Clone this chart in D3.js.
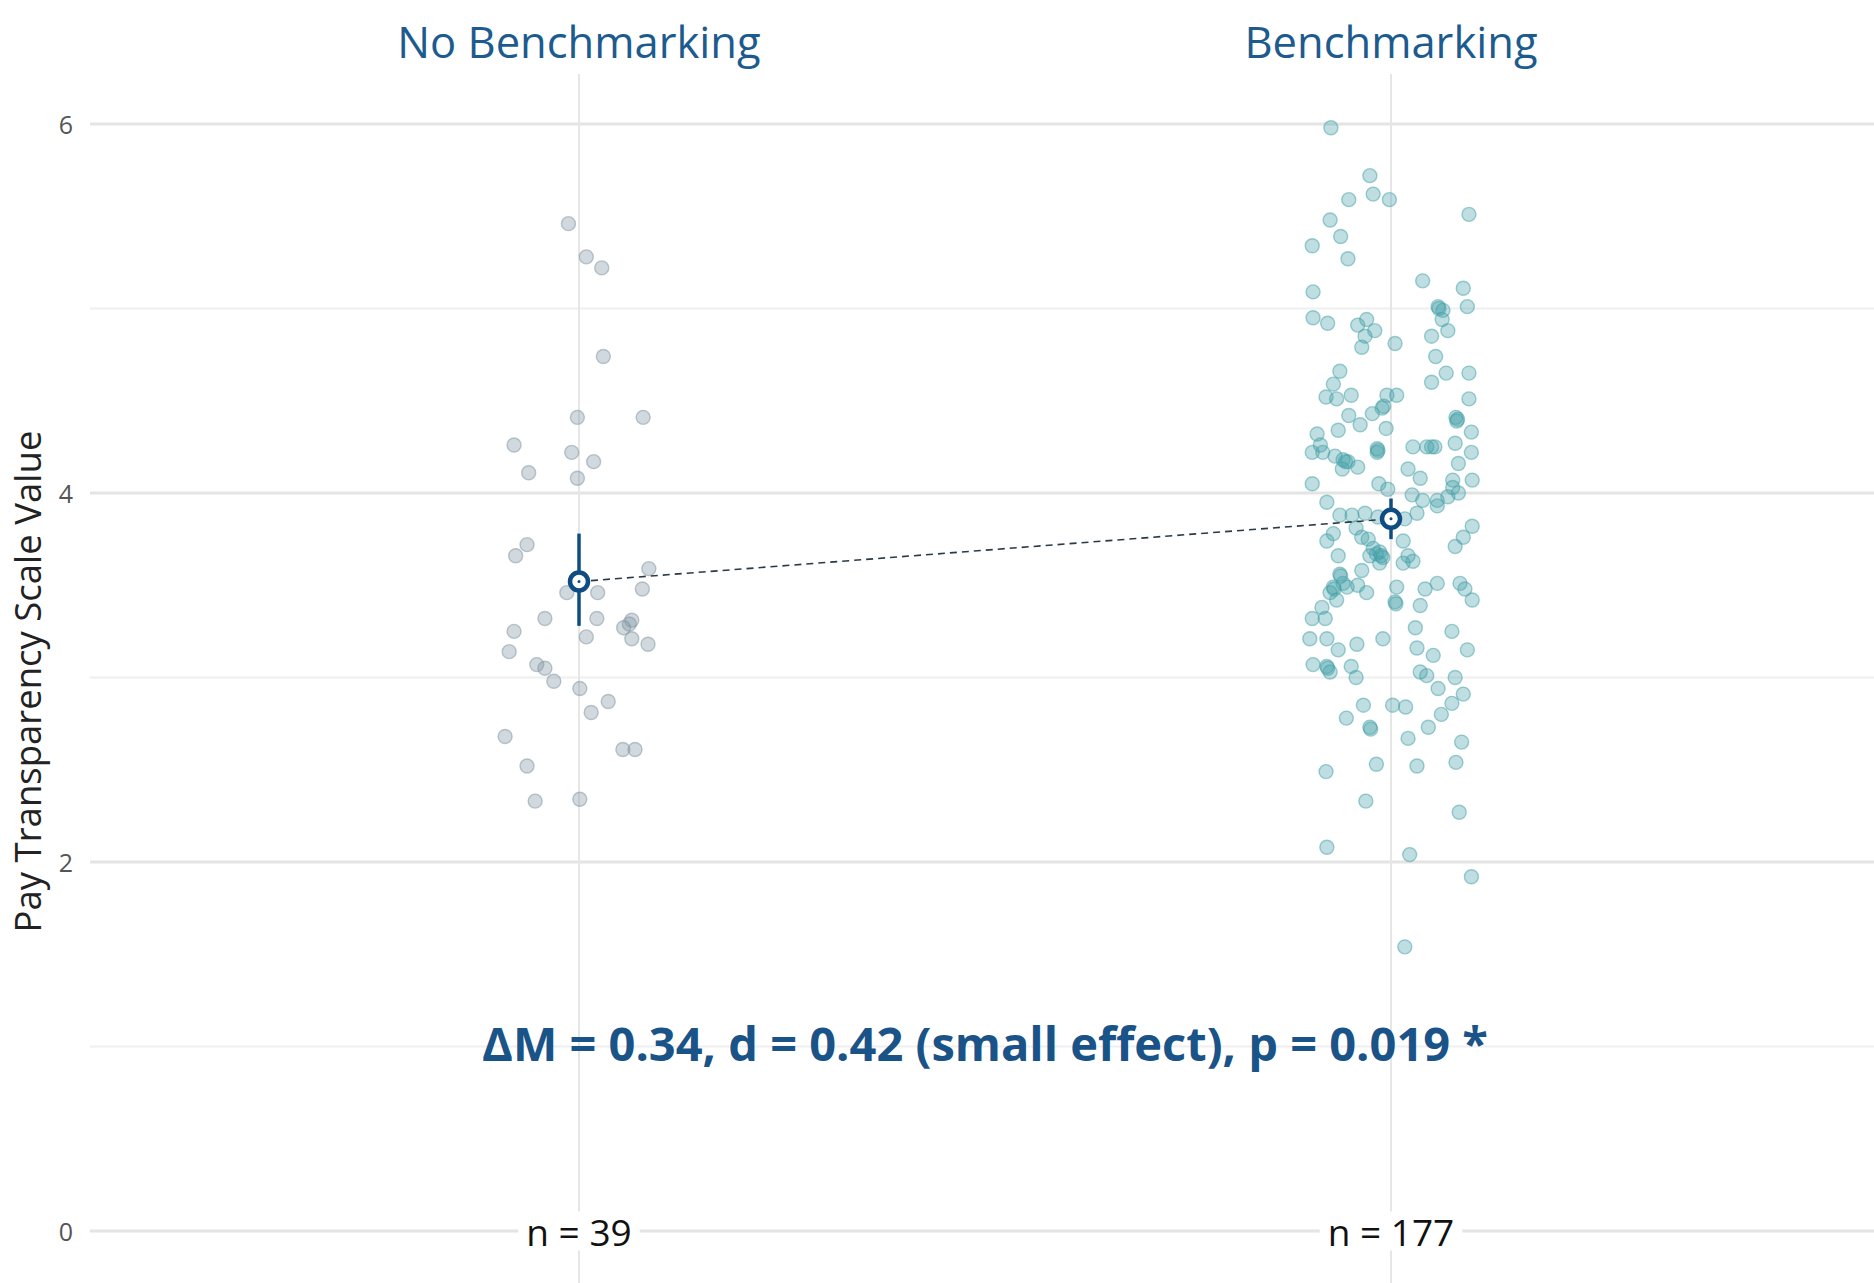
<!DOCTYPE html>
<html>
<head>
<meta charset="utf-8">
<script src="https://cdn.jsdelivr.net/npm/d3@7"></script>
<style>
  body { margin: 0; background: #fff; }
  svg { display: block; font-family: 'Open Sans', 'Noto Sans', sans-serif; }
</style>
</head>
<body>
<div id="chart"></div>
<script>
const groups = ['No Benchmarking', 'Benchmarking'];
const groupN = [39, 177];
const groupMean = [3.52, 3.86];
const ciLow = [3.28, 3.75];
const ciHigh = [3.78, 3.97];
const majorTicks = [0, 2, 4, 6];
const minorTicks = [1, 3, 5];
const yLabel = 'Pay Transparency Scale Value';
const statText = 'ΔM = 0.34, d = 0.42 (small effect), p = 0.019 *';

// jitter is in hundredths of the distance between the two groups
const noBenchValues = [5.46, 5.28, 5.22, 4.74, 4.41, 4.41, 4.26, 4.22, 4.17, 4.11, 4.08,
  3.72, 3.66, 3.59, 3.48, 3.46, 3.46, 3.32, 3.32, 3.31, 3.25, 3.22, 3.27, 3.21, 3.18,
  3.14, 3.07, 3.05, 2.98, 2.94, 2.87, 2.81, 2.68, 2.61, 2.61, 2.52, 2.33, 2.34, 3.29];
const noBenchJitter = [-1.3, 0.9, 2.8, 3.0, -0.2, 7.9, -8.0, -0.9, 1.8, -6.2, -0.2,
  -6.4, -7.8, 8.6, 7.8, -1.5, 2.3, -4.2, 2.2, 6.5, -8.0, 0.9, 5.5, 6.5, 8.5,
  -8.6, -5.2, -4.2, -3.1, 0.1, 3.6, 1.5, -9.1, 5.4, 6.9, -6.4, -5.4, 0.1, 6.2];

const benchValues = [
  5.98, 5.72, 5.59, 5.62, 5.59, 5.51, 5.48, 5.39, 5.34, 5.27, 5.15, 5.11, 5.09, 5.01, 4.99,
  5.01, 4.95, 4.92, 4.94, 4.91, 4.88, 4.94, 4.85, 4.81, 4.85, 4.88, 4.79, 4.74, 4.66, 4.65,
  4.65, 4.60, 4.59, 4.52, 4.51, 4.53, 4.53, 4.53, 4.47, 4.51, 4.42, 4.43, 4.41,
  4.32, 4.34, 4.37, 4.35, 4.39, 4.33, 4.26, 4.22, 4.22, 4.24, 4.22, 4.25, 4.25, 4.25, 4.27,
  4.20, 4.18, 4.17, 4.14, 4.13, 4.22, 4.13, 4.08, 4.16, 4.07, 4.07, 4.05, 4.05, 4.02, 3.99,
  3.96, 3.96, 3.98, 4.00, 3.95, 3.93, 3.88, 3.88, 3.89, 3.87, 3.89, 3.86, 3.82, 3.78, 3.74,
  3.81, 3.76, 3.75, 3.76, 3.71, 3.74, 3.70, 3.68, 3.66, 3.65, 3.66, 3.66, 3.63, 3.62, 3.62,
  3.58, 3.56, 3.51, 3.49, 3.49, 3.50, 3.46, 3.46, 3.42, 3.49, 3.41, 3.48, 3.51, 3.39, 3.51,
  3.48, 3.42, 3.38, 3.32, 3.32, 3.27, 3.25, 3.21, 3.21, 3.21, 3.18, 3.15, 3.16, 3.12, 3.15,
  3.07, 3.06, 3.03, 3.06, 3.00, 3.03, 3.01, 3.00, 2.94, 2.91,
  2.85, 2.85, 2.84, 2.86, 2.78, 2.73, 2.80, 2.73, 2.67, 2.65, 2.54, 2.53, 2.52, 2.49, 2.33,
  2.27, 2.08, 2.04, 1.92, 1.54,
  5.00, 4.46, 4.40, 4.17, 3.67, 3.55, 3.40, 3.05, 2.72, 4.23, 3.66, 4.25, 3.48, 4.03];
const benchJitter = [
  -7.4, -2.6, -5.2, -2.2, -0.2, 9.6, -7.5, -6.2, -9.7, -5.3, 3.9, 8.9, -9.6, 5.8, 6.4,
  9.4, -9.6, -7.8, -3.0, -4.1, -2.0, 6.3, -3.2, 0.5, 5.0, 7.0, -3.6, 5.5, -6.3, 6.8,
  9.6, 5.0, -7.1, -8.0, -6.7, -4.9, -0.5, 0.7, -0.9, 9.6, -5.2, -2.3, 8.0,
  -9.1, -6.5, -3.8, -0.6, 8.1, 9.9, -8.7, -9.7, -8.4, -1.7, -1.7, 2.7, 4.4, 5.4, 7.9,
  -6.9, -5.9, -5.3, -4.1, -6.0, 9.9, 2.1, 3.6, 8.3, 7.6, 10.0, -9.7, -1.5, -0.4, 2.6,
  3.9, 5.7, 7.0, 8.3, -7.9, 5.7, -6.3, -4.8, -3.2, -1.6, 3.2, 1.7, 10.0, -7.1, -7.9,
  -4.3, -3.6, -2.8, 8.9, 7.9, 1.5, -2.2, -1.4, -2.6, -1.0, -6.5, 2.1, 2.7, -1.4, 1.5,
  -3.6, -6.3, -5.9, -7.1, -5.4, -4.1, -3.0, -7.5, -6.7, 0.7, 0.5, 4.2, 5.7, 3.6, 8.5,
  9.1, 10.0, -8.5, -9.7, -8.1, 3.0, 7.5, -10.0, -7.9, -1.0, -4.2, -6.5, 3.2, 5.2, 9.4,
  -9.6, -7.9, -7.5, -4.9, -4.3, 3.6, 4.4, 7.9, 5.8, 8.9,
  -3.4, 0.2, 1.8, 7.5, -5.5, -2.6, 6.2, 4.6, 2.1, 8.7, 8.0, -1.8, 3.2, -8.0, -3.1,
  8.4, -7.9, 2.3, 9.9, 1.7,
  5.9, -1.1, 8.2, -5.6, -1.8, -6.2, 0.6, -7.8, -2.5, -1.6, -1.2, 5.0, -7.0, 7.6];

const pointColors = ['#7d93a1', '#44a0a8'];
const darkBlue = '#0f4c81';

document.addEventListener('DOMContentLoaded', () => {
  createChart();
});

function createChart() {
  const width = 1874;
  const height = 1283;

  const svg = d3
    .select('#chart')
    .append('svg')
    .attr('width', width)
    .attr('height', height);

  const yScale = d3.scaleLinear().domain([0, 6]).range([1231, 124]);
  const xScale = d3.scaleLinear().domain([0, 1]).range([579, 1391]);
  const gridLeft = 90;

  // gridlines
  svg.append('g')
    .selectAll('line')
    .data(minorTicks)
    .join('line')
    .attr('x1', gridLeft)
    .attr('x2', width)
    .attr('y1', (d) => yScale(d))
    .attr('y2', (d) => yScale(d))
    .attr('stroke', '#efefef')
    .attr('stroke-width', 2);

  svg.append('g')
    .selectAll('line')
    .data(majorTicks)
    .join('line')
    .attr('x1', gridLeft)
    .attr('x2', width)
    .attr('y1', (d) => yScale(d))
    .attr('y2', (d) => yScale(d))
    .attr('stroke', '#e4e4e4')
    .attr('stroke-width', 3);

  svg.append('g')
    .selectAll('line')
    .data(groups)
    .join('line')
    .attr('x1', (d, i) => xScale(i))
    .attr('x2', (d, i) => xScale(i))
    .attr('y1', 74)
    .attr('y2', height)
    .attr('stroke', '#e6e6e6')
    .attr('stroke-width', 2);

  // y tick labels
  svg.append('g')
    .selectAll('text')
    .data(majorTicks)
    .join('text')
    .attr('x', 73)
    .attr('y', (d) => yScale(d))
    .attr('text-anchor', 'end')
    .attr('dominant-baseline', 'central')
    .attr('font-size', 25)
    .attr('fill', '#555')
    .text((d) => d);

  svg.append('text')
    .attr('transform', `translate(41, ${(yScale(1.5) + yScale(4.5)) / 2 + 4}) rotate(-90)`)
    .attr('text-anchor', 'middle')
    .attr('font-size', 36.5)
    .attr('fill', '#222')
    .text(yLabel);

  // group titles
  svg.append('g')
    .selectAll('text')
    .data(groups)
    .join('text')
    .attr('x', (d, i) => xScale(i))
    .attr('y', 58)
    .attr('text-anchor', 'middle')
    .attr('font-size', 43.5)
    .attr('fill', '#1d5b8f')
    .text((d) => d);

  // jittered points
  const sets = [
    noBenchValues.map((v, k) => ({ g: 0, v, j: noBenchJitter[k] })),
    benchValues.map((v, k) => ({ g: 1, v, j: benchJitter[k] })),
  ];
  const dots = svg.append('g').attr('class', 'dots');
  dots
    .selectAll('circle')
    .data(sets.flat())
    .join('circle')
    .attr('cx', (d) => xScale(d.g + d.j / 100))
    .attr('cy', (d) => yScale(d.v))
    .attr('r', 7)
    .attr('fill', (d) => pointColors[d.g])
    .attr('fill-opacity', 0.35)
    .attr('stroke', (d) => pointColors[d.g])
    .attr('stroke-opacity', 0.5)
    .attr('stroke-width', 1.4);

  // dashed line between means
  svg.append('line')
    .attr('x1', xScale(0))
    .attr('y1', yScale(groupMean[0]))
    .attr('x2', xScale(1))
    .attr('y2', yScale(groupMean[1]))
    .attr('stroke', '#2b3a47')
    .attr('stroke-width', 1.6)
    .attr('stroke-dasharray', '7,5');

  // error bars
  svg.append('g')
    .selectAll('line')
    .data(groups)
    .join('line')
    .attr('x1', (d, i) => xScale(i))
    .attr('x2', (d, i) => xScale(i))
    .attr('y1', (d, i) => yScale(ciLow[i]))
    .attr('y2', (d, i) => yScale(ciHigh[i]))
    .attr('stroke', darkBlue)
    .attr('stroke-width', 3.5);

  const means = svg.append('g');
  means.selectAll('circle.m')
    .data(groups)
    .join('circle')
    .attr('class', 'm')
    .attr('cx', (d, i) => xScale(i))
    .attr('cy', (d, i) => yScale(groupMean[i]))
    .attr('r', 9)
    .attr('fill', '#fff')
    .attr('stroke', darkBlue)
    .attr('stroke-width', 4.5);
  means.selectAll('circle.c')
    .data(groups)
    .join('circle')
    .attr('class', 'c')
    .attr('cx', (d, i) => xScale(i))
    .attr('cy', (d, i) => yScale(groupMean[i]))
    .attr('r', 1.5)
    .attr('fill', darkBlue);

  // statistics annotation
  svg.append('text')
    .attr('x', (xScale(0) + xScale(1)) / 2)
    .attr('y', yScale(1.02))
    .attr('text-anchor', 'middle')
    .attr('dominant-baseline', 'central')
    .attr('font-size', 47)
    .attr('font-weight', 700)
    .attr('fill', '#1a5388')
    .text(statText);

  // sample sizes on the zero line
  const nLabels = svg.append('g')
    .selectAll('g')
    .data(groups)
    .join('g')
    .attr('transform', (d, i) => `translate(${xScale(i)}, ${yScale(0)})`);

  nLabels.append('text')
    .attr('text-anchor', 'middle')
    .attr('dominant-baseline', 'central')
    .attr('font-size', 37)
    .attr('fill', '#111')
    .text((d, i) => `n = ${groupN[i]}`)
    .each(function () {
      const box = this.getBBox();
      d3.select(this.parentNode)
        .insert('rect', 'text')
        .attr('x', box.x - 8)
        .attr('y', box.y + 6)
        .attr('width', box.width + 16)
        .attr('height', box.height - 12)
        .attr('fill', '#fff');
    });
}
</script>
</body>
</html>
